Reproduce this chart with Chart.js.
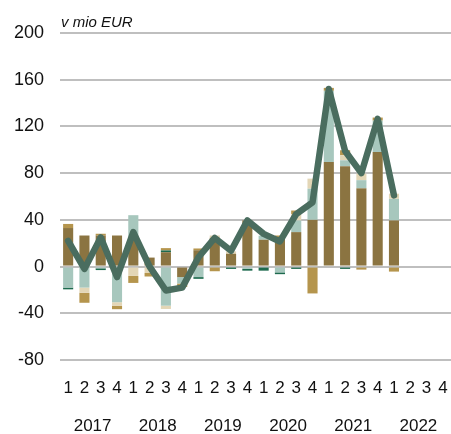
<!DOCTYPE html>
<html>
<head>
<meta charset="utf-8">
<script src="https://cdn.jsdelivr.net/npm/chart.js@4.4.1/dist/chart.umd.min.js"></script>
<style>
  html, body { margin: 0; padding: 0; background: #fff; }
  #wrap { width: 451px; height: 434px; position: relative; }
</style>
</head>
<body>
<div id="wrap"><canvas id="chart"></canvas></div>
<script>
// quarter ticks and year groups
const quarters = ['1','2','3','4','1','2','3','4','1','2','3','4','1','2','3','4','1','2','3','4','1','2','3','4'];
const years = ['2017', '2018', '2019', '2020', '2021', '2022'];

// stacked components, v mio EUR (2017 Q1 .. 2022 Q1)
const brown = [33, 26.6, 26.6, 26.6, 24, 7.7, 12.3, -9, 14, 24.6, 11, 39.5, 23, 24.6, 29.5, 40, 89.5, 86, 67, 98, 39.5];
const sage  = [-18, -18, -1.5, -30.5, 20, 0, -33.5, -5.5, -9, 0, 0, -2, 3.5, -5, 10, 26.7, 61, 5, 7, 27, 18.5];
const green = [-1.5, 0, -1.5, 0, 0, 0, 1.5, 0, -1.5, 0, -2, -1.5, -3.5, -1.5, -2, 0, 0, -2, 0, 0, 0];
const beige = [0, -4.5, 0, -3, -8, -5.5, -2.8, 0, 0, 2, 2, 0, 0, 0, 5.5, 8.6, 0, 4.3, 5.5, 0, 4.4];
const gold  = [3.5, -8.5, 1.5, -3, -6, -3, 2, -3, 1.5, -4, 0, 0, 0, 2, 3, -23, 2.5, 4.3, -2.6, 2.6, -4.3];
// total line
const total = [22, -2, 25, -9, 29.5, 0, -20.5, -18, 8, 24.5, 13.5, 39.5, 28, 21.5, 45, 55, 152, 99, 80, 126.5, 61];

const FONT = "'Liberation Sans', Arial, sans-serif";

const unitLabel = {
  id: 'unitLabel',
  afterDraw(chart) {
    const { ctx, chartArea } = chart;
    ctx.save();
    ctx.font = 'italic 15px ' + FONT;
    ctx.fillStyle = '#111';
    ctx.textBaseline = 'alphabetic';
    ctx.fillText('v mio EUR', chartArea.left + 1, chartArea.top - 6.5);
    ctx.restore();
  }
};

function barSet(label, data, color) {
  return {
    type: 'bar',
    label: label,
    data: data,
    backgroundColor: color,
    borderWidth: 0,
    barPercentage: 0.62,
    categoryPercentage: 1,
    stack: 'parts',
    order: 1
  };
}

// fixed band heights under the plot, no side padding
function fixHeight(h) {
  return function (scale) {
    scale.height = h;
    scale.paddingLeft = 0;
    scale.paddingRight = 0;
  };
}

new Chart(document.getElementById('chart'), {
  data: {
    labels: quarters,
    datasets: [
      {
        type: 'line',
        label: 'total',
        data: total,
        borderColor: '#4A6D5F',
        borderWidth: 6.5,
        pointRadius: 0,
        tension: 0,
        borderJoinStyle: 'round',
        borderCapStyle: 'round',
        stack: 'line',
        order: 0
      },
      barSet('a', brown, '#8B7441'),
      barSet('b', sage, '#A7C7BD'),
      barSet('c', green, '#1D6A4E'),
      barSet('d', beige, '#E3D6B6'),
      barSet('e', gold, '#B5954D')
    ]
  },
  options: {
    responsive: true,
    maintainAspectRatio: false,
    animation: false,
    layout: { padding: { top: 33, right: 0, left: 0, bottom: 0 } },
    plugins: {
      legend: { display: false },
      tooltip: { enabled: false }
    },
    scales: {
      x: {
        stacked: true,
        afterFit: fixHeight(40),
        grid: { display: false, drawTicks: false },
        border: { display: false },
        ticks: { color: '#111', font: { family: FONT, size: 17 }, padding: 18, maxRotation: 0, autoSkip: false }
      },
      x2: {
        type: 'category',
        labels: years,
        position: 'bottom',
        offset: true,
        afterFit: fixHeight(34),
        grid: { display: false, drawTicks: false },
        border: { display: false },
        ticks: { color: '#111', font: { family: FONT, size: 17 }, padding: 16, maxRotation: 0 }
      },
      y: {
        stacked: true,
        min: -80,
        max: 200,
        afterFit(scale) { scale.width = 60; },
        grid: { color: '#BFBFBF', lineWidth: 2, drawTicks: false },
        border: { display: false },
        ticks: { stepSize: 40, color: '#111', font: { family: FONT, size: 18 }, padding: 16 }
      }
    }
  },
  plugins: [unitLabel]
});
</script>
</body>
</html>
